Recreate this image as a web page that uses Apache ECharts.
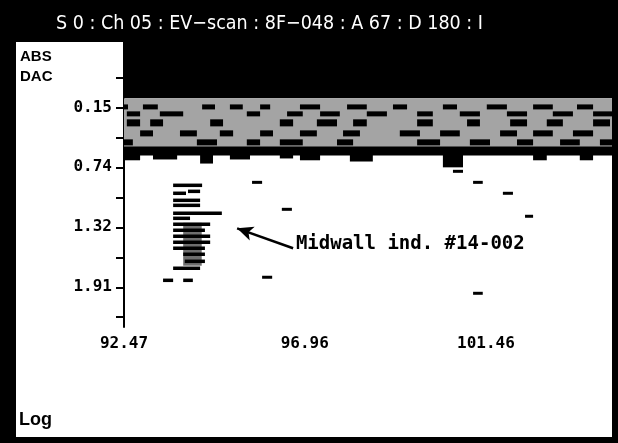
<!DOCTYPE html>
<html>
<head>
<meta charset="utf-8">
<script src="https://cdn.jsdelivr.net/npm/echarts@6/dist/echarts.min.js"></script>
<style>
  html, body { margin: 0; padding: 0; background: #000; }
  #chart { width: 618px; height: 443px; }
</style>
</head>
<body>
<div id="chart"></div>
<script>
// axis ticks (scan position / depth)
var xTickValues = [92.47, 96.96, 101.46];
var xMinorTicks = [94.715, 99.21, 103.71];
var yTickValues = [0.15, 0.737, 1.324, 1.911];
var yTickLabels = ["0.15", "0.74", "1.32", "1.91"];
var yMinorTicks = [-0.1435, 0.4435, 1.0305, 1.6175, 2.2045];

// saturated top of the scan and the back-wall band  [x0, x1, y0, y1]
var topBlack = [[92.47, 104.59, -0.49, 0.06]];
var bandBase = [[92.47, 104.59, 0.06, 0.541]];
var bandStrip = [[92.47, 104.59, 0.532, 0.62]];

// rows of dark blocks inside the band
var bandRowY = [[0.121, 0.17], [0.189, 0.238], [0.267, 0.336], [0.375, 0.434], [0.463, 0.522]];
var bandRowBlocks = [
  [[92.47, 92.57], [92.94, 93.31], [94.41, 94.73], [95.1, 95.42], [95.85, 96.1], [96.84, 97.34], [98.01, 98.5], [99.15, 99.5], [100.39, 100.74], [101.48, 101.98], [102.63, 103.12], [103.72, 104.12]],
  [[92.54, 92.87], [93.36, 93.94], [95.52, 95.85], [96.52, 96.91], [97.34, 97.83], [98.5, 99.0], [99.75, 100.14], [100.81, 101.31], [101.98, 102.48], [103.12, 103.62], [104.12, 104.59]],
  [[92.54, 92.87], [93.12, 93.44], [94.61, 94.93], [96.34, 96.67], [97.26, 97.76], [98.16, 98.5], [99.75, 100.14], [100.99, 101.31], [102.06, 102.48], [102.97, 103.37], [104.12, 104.54]],
  [[92.87, 93.19], [93.86, 94.28], [94.85, 95.18], [95.85, 96.17], [96.84, 97.26], [97.91, 98.33], [99.32, 99.82], [100.32, 100.81], [101.81, 102.23], [102.63, 103.12], [103.62, 104.12]],
  [[92.47, 92.69], [94.28, 94.78], [95.52, 95.85], [96.34, 96.91], [97.76, 98.16], [99.75, 100.32], [101.06, 101.56], [102.23, 102.63], [103.3, 103.79], [104.29, 104.59]]
];

// lumps hanging below the band
var lumpX = [[92.47, 92.87], [93.19, 93.79], [94.36, 94.68], [95.1, 95.6], [96.34, 96.67], [96.84, 97.34], [98.08, 98.65], [100.39, 100.89], [102.63, 102.97], [103.79, 104.12]];
var lumpBottom = [0.668, 0.66, 0.7, 0.66, 0.65, 0.668, 0.68, 0.737, 0.668, 0.668];

// indication cluster  [x0, x1, y]
var clusterDashes = [
  [93.69, 94.41, 0.913], [93.69, 94.01, 0.991], [94.06, 94.36, 0.972],
  [93.69, 94.36, 1.06], [93.69, 94.36, 1.109], [93.69, 94.9, 1.187],
  [93.69, 94.11, 1.236], [93.69, 94.61, 1.295], [93.69, 94.48, 1.353],
  [93.69, 94.61, 1.412], [93.69, 94.61, 1.471], [93.69, 94.48, 1.529],
  [93.94, 94.48, 1.588], [93.98, 94.48, 1.657], [93.69, 94.36, 1.725],
  [93.44, 93.69, 1.843], [93.94, 94.18, 1.843]
];
var clusterPatch = [[93.94, 94.4, 1.28, 1.7]];

// isolated small reflectors  [x0, x1, y]
var strayDashes = [
  [95.65, 95.9, 0.884], [96.39, 96.64, 1.148], [95.9, 96.15, 1.813],
  [101.14, 101.38, 0.884], [101.88, 102.13, 0.991], [102.43, 102.63, 1.216],
  [101.14, 101.38, 1.97], [100.64, 100.89, 0.776]
];

var arrowTail = [96.67, 1.529];
var arrowTip = [95.28, 1.334];
var noteAt = [96.69, 1.49];
var noteText = "Midwall ind. #14-002";

// build rect list from rows
var blockData = [];
bandRowBlocks.forEach(function (row, i) {
  row.forEach(function (b) {
    blockData.push([b[0], b[1], bandRowY[i][0], bandRowY[i][1]]);
  });
});
var lumpData = lumpX.map(function (l, i) {
  return [l[0], l[1], 0.6, lumpBottom[i]];
});

var chart = echarts.init(document.getElementById("chart"));

function rectItem(params, api) {
  var p0 = api.coord([api.value(0), api.value(2)]);
  var p1 = api.coord([api.value(1), api.value(3)]);
  var cs = params.coordSys;
  var shape = echarts.graphic.clipRectByRect(
    {
      x: Math.min(p0[0], p1[0]),
      y: Math.min(p0[1], p1[1]),
      width: Math.abs(p1[0] - p0[0]),
      height: Math.abs(p1[1] - p0[1]),
    },
    { x: cs.x, y: cs.y, width: cs.width, height: cs.height }
  );
  return shape && { type: "rect", shape: shape, style: { fill: api.visual("color") } };
}

function dashItem(thick) {
  return function (params, api) {
    var p0 = api.coord([api.value(0), api.value(2)]);
    var p1 = api.coord([api.value(1), api.value(2)]);
    return {
      type: "rect",
      shape: { x: p0[0], y: p0[1] - thick / 2, width: p1[0] - p0[0], height: thick },
      style: { fill: "#000" },
    };
  };
}

function rectSeries(data, color) {
  return {
    type: "custom",
    renderItem: rectItem,
    itemStyle: { color: color },
    encode: { x: [0, 1], y: [2, 3] },
    data: data,
    silent: true,
  };
}

chart.setOption({
  backgroundColor: "#000",
  animation: false,
  title: {
    text: "S 0 : Ch 05 : EV\u2212scan : 8F\u2212048 : A 67 : D 180 : I",
    left: 51,
    top: 9,
    textStyle: { color: "#fff", fontFamily: "DejaVu Sans Condensed, Liberation Sans, sans-serif", fontSize: 19.5, fontWeight: "normal" },
  },
  graphic: [
    { type: "rect", z: 0, shape: { x: 16, y: 42, width: 596, height: 395 }, style: { fill: "#fff" } },
    { type: "text", z: 1, left: 20, top: 49, style: { text: "ABS", fill: "#000", font: "bold 15px Liberation Sans" } },
    { type: "text", z: 1, left: 20, top: 69, style: { text: "DAC", fill: "#000", font: "bold 15px Liberation Sans" } },
    { type: "text", z: 1, left: 19, top: 411, style: { text: "Log", fill: "#000", font: "bold 18px Liberation Sans" } },
  ],
  grid: { left: 124, right: 6, top: 42, bottom: 116 },
  xAxis: {
    type: "value",
    min: 92.47,
    max: 104.59,
    axisLine: { lineStyle: { color: "#000", width: 2 } },
    axisTick: {
      customValues: xTickValues.concat(xMinorTicks),
      length: 5,
      lineStyle: { color: "#000", width: 2 },
    },
    axisLabel: {
      customValues: xTickValues,
      formatter: function (v) { return v.toFixed(2); },
      margin: 9,
      color: "#000",
      fontFamily: "DejaVu Sans Mono",
      fontWeight: "bold",
      fontSize: 16,
    },
    splitLine: { show: false },
  },
  yAxis: {
    type: "value",
    inverse: true,
    min: -0.49,
    max: 2.3,
    axisLine: { lineStyle: { color: "#000", width: 2 } },
    axisTick: {
      customValues: yTickValues.concat(yMinorTicks),
      length: 8,
      lineStyle: { color: "#000", width: 2 },
    },
    axisLabel: {
      customValues: yTickValues,
      formatter: function (v) {
        var i = yTickValues.indexOf(v);
        return i >= 0 ? yTickLabels[i] : "";
      },
      margin: 12,
      color: "#000",
      fontFamily: "DejaVu Sans Mono",
      fontWeight: "bold",
      fontSize: 16,
    },
    splitLine: { show: false },
  },
  series: [
    rectSeries(topBlack, "#000"),
    rectSeries(bandBase, "#a4a4a4"),
    rectSeries(blockData, "#000"),
    rectSeries(bandStrip, "#000"),
    rectSeries(lumpData, "#000"),
    rectSeries(clusterPatch, "#6e6e6e"),
    {
      type: "custom",
      renderItem: dashItem(3.5),
      encode: { x: [0, 1], y: 2 },
      data: clusterDashes,
    },
    {
      type: "custom",
      renderItem: dashItem(3),
      encode: { x: [0, 1], y: 2 },
      data: strayDashes,
    },
    {
      type: "scatter",
      symbolSize: 0,
      itemStyle: { opacity: 1 },
      data: [noteAt],
      label: {
        show: true,
        position: "right",
        distance: 2,
        formatter: noteText,
        color: "#000",
        fontFamily: "DejaVu Sans Mono",
        fontWeight: "bold",
        fontSize: 19,
      },
      markLine: {
        silent: true,
        symbol: ["none", "arrow"],
        symbolSize: [11, 16],
        label: { show: false },
        lineStyle: { color: "#000", width: 2.5, type: "solid", opacity: 1 },
        data: [[{ coord: arrowTail }, { coord: arrowTip }]],
      },
    },
  ],
});
</script>
</body>
</html>
